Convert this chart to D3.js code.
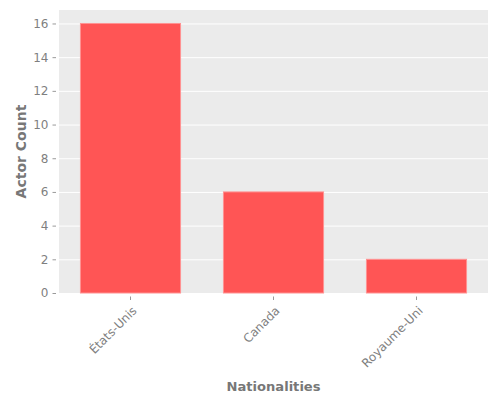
<!DOCTYPE html>
<html><head><meta charset="utf-8">
<script src="https://cdn.jsdelivr.net/npm/d3@7"></script>
<style>body{margin:0;background:#fff}svg{display:block}</style>
</head><body>
<svg id="c" width="500" height="400"></svg>
<script>
const categories = ["États-Unis", "Canada", "Royaume-Uni"];
const counts = [16, 6, 2];
const yTicks = [0, 2, 4, 6, 8, 10, 12, 14, 16];
const xTitle = "Nationalities";
const yTitle = "Actor Count";

const svg = d3.select("#c");
const m = {l: 59, r: 12, t: 10, b: 107};
const W = 500, H = 400;
const x = d3.scaleBand().domain(categories).range([m.l, W - m.r]).paddingInner(0.3).paddingOuter(0.15);
const y = d3.scaleLinear().domain([0, 16.8]).range([H - m.b, m.t]);
const font = "DejaVu Sans, sans-serif";

svg.append("rect").attr("x", m.l).attr("y", m.t).attr("width", W - m.r - m.l).attr("height", H - m.b - m.t).attr("fill", "#EBEBEB");

// grid
svg.append("g").selectAll("line").data(yTicks).join("line")
  .attr("x1", m.l).attr("x2", W - m.r)
  .attr("y1", d => y(d) + 0.5).attr("y2", d => y(d) + 0.5)
  .attr("stroke", "#fff").attr("stroke-width", 1);

// bars
svg.append("g").selectAll("rect").data(categories).join("rect")
  .attr("x", d => x(d)).attr("width", x.bandwidth())
  .attr("y", (d, i) => y(counts[i])).attr("height", (d, i) => y(0) - y(counts[i]))
  .attr("fill", "#FF5555").attr("stroke", "#FF9292").attr("stroke-width", 1);

// y axis
const ya = svg.append("g").attr("transform", `translate(${m.l - 3},0)`)
  .call(d3.axisLeft(y).tickValues(yTicks).tickSize(3.5).tickPadding(4).tickFormat(d3.format("d")));
ya.select(".domain").remove();
ya.selectAll("line").attr("stroke", "#9a9a9a");
ya.selectAll("text").attr("fill", "#7f7f7f").attr("font-family", font).attr("font-size", 12);

// x axis
const xa = svg.append("g").attr("transform", `translate(0,${H - m.b + 3.5})`)
  .call(d3.axisBottom(x).tickSize(3.5).tickPadding(4));
xa.select(".domain").remove();
xa.selectAll("line").attr("stroke", "#9a9a9a");
xa.selectAll("text").attr("fill", "#7f7f7f").attr("font-family", font).attr("font-size", 12)
  .attr("text-anchor", "end").attr("dy", null).attr("y", 0)
  .attr("transform", "translate(7,15) rotate(-45)");

// titles
svg.append("text").attr("x", (m.l + W - m.r) / 2).attr("y", 391)
  .attr("text-anchor", "middle").attr("font-family", font).attr("font-size", 13.1).attr("font-weight", "bold")
  .attr("fill", "#777").text(xTitle);
svg.append("text").attr("transform", `translate(26,${(m.t + H - m.b) / 2}) rotate(-90)`)
  .attr("text-anchor", "middle").attr("font-family", font).attr("font-size", 14).attr("font-weight", "bold")
  .attr("fill", "#777").text(yTitle);
</script>
</body></html>
